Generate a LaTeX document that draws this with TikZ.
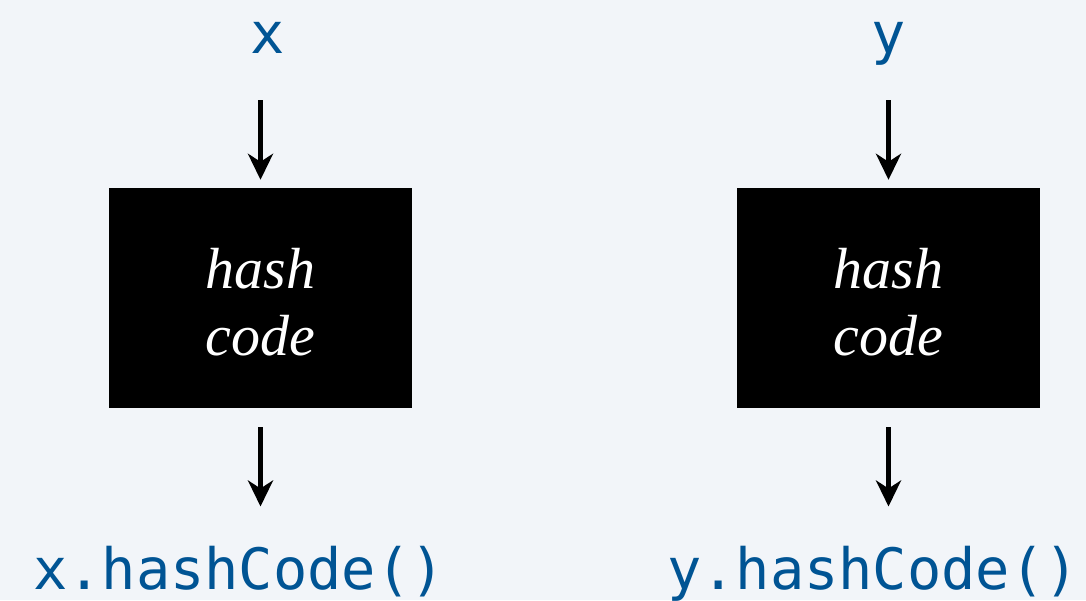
\documentclass[tikz,border=0pt]{standalone}
\usepackage{fontspec}
\newfontfamily\codefont{DejaVu Sans Mono}
\newfontfamily\hashfont{Liberation Serif}
\usetikzlibrary{arrows.meta}
\definecolor{bgpaper}{RGB}{242,245,249}
\definecolor{codeblue}{RGB}{0,84,148}
\tikzset{
  code/.style={inner sep=0pt, anchor=base, text=codeblue,
    font=\codefont\fontsize{57}{57}\selectfont},
  hashbox/.style={fill=black, draw=none, minimum width=303pt, minimum height=220pt,
    inner sep=0pt},
  hashtext/.style={inner sep=0pt, align=center, text=white,
    font=\hashfont\itshape\fontsize{58}{67}\selectfont},
  flow/.style={line width=5pt,
    -{Stealth[length=26pt,width=25pt,inset=8pt]}}
}
\begin{document}
\begin{tikzpicture}[x=1pt,y=-1pt]
  \fill[bgpaper] (0,0) rectangle (1086,600);
  \useasboundingbox (0,0) rectangle (1086,600);

  % inputs
  \node[code] (xin) at (268,53) {x};
  \node[code] (yin) at (889,53) {y};

  % hash functions
  \node[hashbox] (hx) at (260.5,298) {};
  \node[hashbox] (hy) at (888.5,298) {};
  \node[hashtext] (hxt) at ([yshift=-4pt]hx.center) {hash\\code};
  \node[hashtext] (hyt) at ([yshift=-4pt]hy.center) {hash\\code};

  % outputs
  \node[code] (xout) at (239,589) {x.hashCode()};
  \node[code] (yout) at (873,589) {y.hashCode()};

  % flow arrows
  \draw[flow, shorten <=47pt, shorten >=8pt] (hx.north |- xin.base) -- (hx.north);
  \draw[flow, shorten <=47pt, shorten >=8pt] (hy.north |- xin.base) -- (hy.north);
  \draw[flow, shorten <=19pt, shorten >=39pt] (hx.south) -- (hx.south |- xout.north);
  \draw[flow, shorten <=19pt, shorten >=39pt] (hy.south) -- (hy.south |- xout.north);
\end{tikzpicture}
\end{document}
